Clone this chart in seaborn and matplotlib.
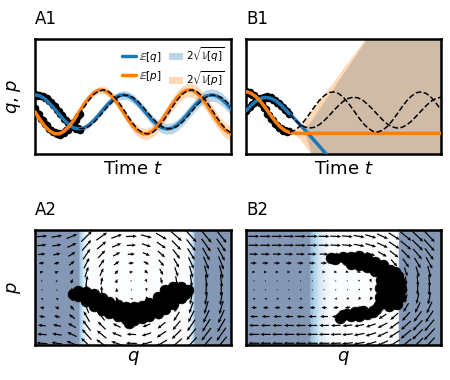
import numpy as np
import matplotlib
matplotlib.use('Agg')
import matplotlib.pyplot as plt
from matplotlib.lines import Line2D
from matplotlib.patches import Patch
from matplotlib.colors import ListedColormap
import seaborn as sns

sns.set_style('white')
plt.rcParams['font.family'] = ['DejaVu Sans']
plt.rcParams['text.color'] = 'black'
plt.rcParams['axes.labelcolor'] = 'black'

BLUE = '#1f77b4'
ORANGE = '#ff7f0e'

# ---- time series data ----
t = np.linspace(0, 10, 41)
t_true = t[9:]

# A1: model fits well
mean_q_a = [0.07, 0.03, -0.10, -0.30, -0.54, -0.80, -1.04, -1.24, -1.37, -1.41,
            -1.37, -1.24, -1.04, -0.80, -0.54, -0.30, -0.10, 0.03, 0.07, 0.03,
            -0.10, -0.30, -0.54, -0.80, -1.04, -1.24, -1.37, -1.41, -1.37, -1.24,
            -1.04, -0.80, -0.54, -0.30, -0.10, 0.03, 0.07, 0.03, -0.10, -0.30,
            -0.54]
mean_p_a = [-0.67, -1.00, -1.29, -1.50, -1.62, -1.62, -1.50, -1.29, -1.00, -0.67,
            -0.34, -0.05, 0.16, 0.28, 0.28, 0.16, -0.05, -0.34, -0.67, -1.00,
            -1.29, -1.50, -1.62, -1.62, -1.50, -1.29, -1.00, -0.67, -0.34, -0.05,
            0.16, 0.28, 0.28, 0.16, -0.05, -0.34, -0.67, -1.00, -1.29, -1.50,
            -1.62]
two_sd_q_a = [0.03, 0.04, 0.04, 0.05, 0.06, 0.07, 0.08, 0.09, 0.10, 0.11,
              0.12, 0.13, 0.14, 0.15, 0.16, 0.17, 0.18, 0.18, 0.19, 0.19,
              0.20, 0.20, 0.21, 0.21, 0.22, 0.22, 0.23, 0.23, 0.24, 0.24,
              0.25, 0.25, 0.26, 0.26, 0.26, 0.27, 0.27, 0.27, 0.28, 0.28,
              0.28]
two_sd_p_a = [0.03, 0.04, 0.05, 0.06, 0.07, 0.08, 0.09, 0.10, 0.11, 0.12,
              0.13, 0.14, 0.15, 0.16, 0.17, 0.18, 0.19, 0.20, 0.21, 0.22,
              0.23, 0.23, 0.24, 0.25, 0.25, 0.26, 0.27, 0.27, 0.28, 0.28,
              0.29, 0.29, 0.30, 0.30, 0.31, 0.31, 0.31, 0.32, 0.32, 0.32,
              0.32]
true_q_a = [-1.40, -1.39, -1.30, -1.13, -0.90, -0.64, -0.39, -0.18, -0.02,
            0.06, 0.05, -0.04, -0.21, -0.44, -0.70, -0.95, -1.17, -1.32,
            -1.40, -1.39, -1.30, -1.13, -0.90, -0.64, -0.39, -0.18, -0.02,
            0.06, 0.05, -0.04, -0.21, -0.44]
true_p_a = [-0.80, -0.47, -0.16, 0.09, 0.24, 0.29, 0.22, 0.04, -0.22,
            -0.54, -0.87, -1.18, -1.43, -1.58, -1.63, -1.56, -1.38, -1.12,
            -0.80, -0.47, -0.16, 0.09, 0.24, 0.29, 0.22, 0.04, -0.22,
            -0.54, -0.87, -1.18, -1.43, -1.58]
obs_t_a = np.linspace(0, 2.3, 24)
obs_q_a = [0.09, 0.04, 0.08, 0.01, 0.04, -0.07, -0.08, -0.21, -0.23, -0.38, -0.41, -0.57,
           -0.61, -0.78, -0.82, -0.98, -1.01, -1.16, -1.17, -1.30, -1.29, -1.40, -1.36, -1.44]
obs_p_a = [-0.50, -0.70, -0.77, -0.97, -1.03, -1.21, -1.26, -1.41, -1.44, -1.56, -1.55, -1.65,
           -1.60, -1.66, -1.57, -1.59, -1.47, -1.46, -1.31, -1.26, -1.09, -1.03, -0.84, -0.77]

# B1: model diverges after the observations
mean_q_b = [-0.62, -0.40, -0.21, -0.08, -0.04, -0.07, -0.17, -0.34, -0.55, -0.77,
            -0.98, -1.21, -1.44, -1.67, -1.91, -2.15, -2.39, -2.63, -2.87, -3.11,
            -3.35, -3.59, -3.83, -4.07, -4.31, -4.55, -4.79, -5.03, -5.27, -5.51,
            -5.75, -5.99, -6.23, -6.47, -6.71, -6.95, -7.19, -7.43, -7.67, -7.91,
            -8.15]
mean_p_b = [0.22, 0.14, 0.00, -0.22, -0.50, -0.80, -1.08, -1.32, -1.48, -1.57,
            -1.59, -1.60, -1.60, -1.60, -1.60, -1.60, -1.60, -1.60, -1.60, -1.60,
            -1.60, -1.60, -1.60, -1.60, -1.60, -1.60, -1.60, -1.60, -1.60, -1.60,
            -1.60, -1.60, -1.60, -1.60, -1.60, -1.60, -1.60, -1.60, -1.60, -1.60,
            -1.60]
two_sd_q_b = [0.03, 0.03, 0.04, 0.04, 0.05, 0.05, 0.06, 0.06, 0.07, 0.07,
              0.08, 0.08, 0.08, 0.46, 1.01, 1.57, 2.12, 2.67, 3.22, 3.77,
              4.33, 4.88, 5.43, 5.98, 6.53, 7.08, 7.63, 8.18, 8.73, 9.28,
              9.83, 10.38, 10.93, 11.48, 12.03, 12.58, 13.13, 13.68, 14.23, 14.78,
              15.33]
two_sd_p_b = [0.03, 0.03, 0.04, 0.04, 0.05, 0.05, 0.06, 0.06, 0.07, 0.07,
              0.08, 0.23, 0.51, 0.80, 1.08, 1.37, 1.65, 1.94, 2.22, 2.51,
              2.80, 3.08, 3.37, 3.65, 3.94, 4.22, 4.51, 4.79, 5.08, 5.36,
              5.65, 5.93, 6.22, 6.50, 6.79, 7.07, 7.36, 7.64, 7.93, 8.21,
              8.50]
true_q_b = [-0.79, -1.01, -1.20, -1.32, -1.37, -1.34, -1.23, -1.06, -0.84,
            -0.61, -0.39, -0.20, -0.08, -0.03, -0.06, -0.17, -0.35, -0.56,
            -0.79, -1.01, -1.20, -1.32, -1.37, -1.34, -1.23, -1.06, -0.84,
            -0.61, -0.39, -0.20, -0.08, -0.03]
true_p_b = [-1.54, -1.47, -1.30, -1.05, -0.76, -0.46, -0.18, 0.03, 0.17,
            0.20, 0.13, -0.04, -0.29, -0.58, -0.88, -1.16, -1.37, -1.51,
            -1.54, -1.47, -1.30, -1.05, -0.76, -0.46, -0.18, 0.03, 0.17,
            0.20, 0.13, -0.04, -0.29, -0.58]
obs_t_b = np.linspace(0, 2.2, 23)
obs_q_b = [-0.65, -0.49, -0.46, -0.31, -0.30, -0.16, -0.18, -0.06, -0.09, 0.00, -0.06, 0.01,
           -0.08, -0.04, -0.15, -0.14, -0.27, -0.28, -0.43, -0.44, -0.60, -0.62, -0.78]
obs_p_b = [0.24, 0.15, 0.19, 0.06, 0.07, -0.08, -0.10, -0.28, -0.31, -0.50, -0.55, -0.74,
           -0.79, -0.97, -1.02, -1.19, -1.22, -1.37, -1.38, -1.50, -1.47, -1.56, -1.51]

# ---- phase space data ----
q_grid_a = [-2.79, -2.33, -1.87, -1.42, -0.96, -0.50, -0.05, 0.41, 0.87, 1.33, 1.78, 2.24, 2.70]
q_grid_b = [-2.76, -2.40, -2.04, -1.68, -1.32, -0.96, -0.60, -0.24,
            0.12, 0.48, 0.84, 1.20, 1.56, 1.92, 2.28, 2.64]
p_grid = [1.78, 1.47, 1.16, 0.85, 0.54, 0.23, -0.08, -0.39, -0.70, -1.01, -1.32, -1.63, -1.94]

# learned vector field: dq/dt per row (p), dp/dt per column (q)
dq_rows_a = [1.7, 1.45, 1.15, 0.85, 0.55, 0.25, -0.05, -0.35, -0.65, -0.95, -1.25, -1.5, -1.75]
dp_cols_a = [0.15, 0.3, 0.8, 1.9, 1.4, 0.7, 0.07, -0.55, -1.15, -1.7, -2.1, -2.3, -2.4]
dq_rows_b = [1.75, 1.7, 1.4, 1.0, 0.5, 0.15, -0.05, -0.4, -0.85, -1.25, -1.55, -1.7, -1.75]
dp_cols_b = [0, 0, 0, 0, 0, 0, -0.02, -0.08, -0.18, -0.35, -0.6, -0.9, -1.25, -1.6, -1.9, -2.1]

# uncertainty background along q
bg_q_a = [-3.0, -1.64, -1.62, -1.52, -1.40, 1.70, 1.80, 1.88, 1.90, 3.0]
bg_v_a = [1, 1, 0.62, 0.35, 0.0, 0.0, 0.3, 0.6, 1, 1]
bg_q_b = [-3.0, -1.04, -1.00, -0.90, -0.75, -0.55, -0.40, 1.70, 1.72, 3.0]
bg_v_b = [1, 1, 0.7, 0.55, 0.35, 0.15, 0.0, 0.0, 1, 1]

# sampled trajectories in phase space
blob_q_a = [-1.84, -1.69, -1.69, -1.45, -1.45, -1.20, -1.20, -1.20, -0.96, -0.96, -0.96,
            -0.72, -0.72, -0.72, -0.47, -0.47, -0.47, -0.23, -0.23, -0.23, 0.02, 0.02, 0.02,
            0.26, 0.26, 0.26, 0.50, 0.50, 0.50, 0.75, 0.75, 0.75, 0.99, 0.99, 0.99,
            1.23, 1.23, 1.23, 1.48, 1.48, 1.48, 1.69, -0.11,
            -1.57, -1.33, -1.08, -0.84, -0.60, -0.35, -0.11, 0.14, 0.38, 0.62, 0.87, 1.11, 1.36, 1.60]
blob_p_a = [-0.23, -0.12, -0.30, -0.16, -0.47, -0.23, -0.43, -0.64, -0.37, -0.57, -0.78,
            -0.50, -0.70, -0.89, -0.61, -0.80, -0.99, -0.68, -0.89, -1.10, -0.68, -0.90, -1.13,
            -0.64, -0.85, -1.06, -0.54, -0.77, -0.99, -0.33, -0.61, -0.89, -0.09, -0.42, -0.75,
            0.02, -0.28, -0.57, 0.02, -0.17, -0.37, -0.10, -1.22,
            -0.28, -0.45, -0.58, -0.72, -0.85, -0.93, -1.01, -0.98, -0.88, -0.70, -0.45, -0.15, -0.08, -0.22]
blob_q_b = [-0.38, -0.26, -0.02, 0.23, 0.48, 0.72, 0.97, 1.22, 0.23, 0.48, 0.72, 0.97,
            1.15, 1.43, 1.68, 1.15, 1.43, 1.74, 1.12, 1.43, 1.77, 1.12, 1.43, 1.74, 1.09, 1.40, 1.65,
            -0.11, -0.02, 0.23, 0.48, 0.72, 0.91, 0.35, 0.60,
            0.10, 0.35, 0.60, 0.85, 1.30, 1.58, 1.28, 1.58, 1.28, 1.55, 1.25, 1.52, 1.00, 0.10]
blob_p_b = [1.03, 0.99, 1.06, 1.06, 1.10, 1.03, 0.89, 0.78, 0.82, 0.78, 0.71, 0.57,
            0.54, 0.61, 0.40, 0.26, 0.26, 0.19, -0.02, -0.02, -0.05, -0.33, -0.33, -0.33, -0.61, -0.64, -0.57,
            -1.06, -0.96, -0.99, -0.99, -0.92, -0.85, -0.85, -0.82,
            0.95, 0.93, 0.90, 0.82, 0.50, 0.55, 0.12, 0.10, -0.18, -0.18, -0.48, -0.47, -0.75, -0.92]

# Blues at half opacity over white, done in the colormap to avoid mesh seams
_blues = plt.get_cmap('Blues')(np.linspace(0, 1, 256))[:, :3]
BG_CMAP = ListedColormap(0.5 * _blues + 0.5)


def style_box(ax):
    ax.set_xticks([])
    ax.set_yticks([])
    for s in ax.spines.values():
        s.set_linewidth(1.8)
        s.set_color('black')


def time_panel(ax, mq, mp, sq, sp, tq, tp, ot, oq, op, label, ylabel=True):
    mq, mp, sq, sp = map(np.asarray, (mq, mp, sq, sp))
    ax.fill_between(t, mq - sq, mq + sq, color=BLUE, alpha=0.3, linewidth=0, zorder=1)
    ax.fill_between(t, mp - sp, mp + sp, color=ORANGE, alpha=0.3, linewidth=0, zorder=1)
    sns.scatterplot(x=ot, y=oq, color='black', s=30, linewidth=0, ax=ax, zorder=2)
    sns.scatterplot(x=ot, y=op, color='black', s=30, linewidth=0, ax=ax, zorder=2)
    sns.lineplot(x=t, y=mq, color=BLUE, linewidth=2.5, ax=ax, zorder=3)
    sns.lineplot(x=t, y=mp, color=ORANGE, linewidth=2.5, ax=ax, zorder=3)
    sns.lineplot(x=t_true, y=tq, color='black', linewidth=1.1, linestyle='--', ax=ax, zorder=4)
    sns.lineplot(x=t_true, y=tp, color='black', linewidth=1.1, linestyle='--', ax=ax, zorder=4)
    ax.set_xlim(0, 10)
    ax.set_ylim(-2.5, 2.5)
    style_box(ax)
    ax.set_xlabel('Time $t$', fontsize=13, labelpad=4)
    ax.set_ylabel('$q$, $p$' if ylabel else '', fontsize=13, labelpad=9)
    ax.set_title(label, loc='left', fontsize=12, pad=11)


def phase_panel(ax, bq, bv, qg, dq_rows, dp_cols, bx, by, label, ylabel=True):
    n = len(bq)
    X = np.vstack([bq, bq])
    Y = np.vstack([np.full(n, -2.0), np.full(n, 2.0)])
    C = np.vstack([bv, bv])
    ax.pcolormesh(X, Y, C, shading='gouraud', cmap=BG_CMAP, vmin=0, vmax=1,
                  antialiased=False, zorder=0)
    Q, P = np.meshgrid(qg, p_grid)
    U = np.outer(dq_rows, np.ones(len(qg)))
    V = np.outer(np.ones(len(p_grid)), dp_cols)
    ax.quiver(Q, P, U, V, angles='xy', scale_units='xy', scale=5.2, pivot='mid',
              width=0.0062, headwidth=2.8, headlength=3.2, headaxislength=2.9,
              color='black', zorder=2)
    sns.scatterplot(x=bx, y=by, color='black', s=60, linewidth=0.5, edgecolor='black',
                    ax=ax, zorder=4)
    ax.set_xlim(-3, 3)
    ax.set_ylim(-2, 2)
    style_box(ax)
    ax.set_xlabel('$q$', fontsize=13, labelpad=3)
    ax.set_ylabel('$p$' if ylabel else '', fontsize=13, labelpad=9)
    ax.set_title(label, loc='left', fontsize=12, pad=11)


fig = plt.figure(figsize=(4.5, 3.8), dpi=100)
ax_a1 = fig.add_axes([0.0778, 0.5947, 0.4356, 0.3026])
ax_b1 = fig.add_axes([0.5467, 0.5947, 0.4333, 0.3026])
ax_a2 = fig.add_axes([0.0778, 0.0921, 0.4356, 0.3026])
ax_b2 = fig.add_axes([0.5467, 0.0921, 0.4333, 0.3026])

time_panel(ax_a1, mean_q_a, mean_p_a, two_sd_q_a, two_sd_p_a, true_q_a, true_p_a,
           obs_t_a, obs_q_a, obs_p_a, 'A1')
time_panel(ax_b1, mean_q_b, mean_p_b, two_sd_q_b, two_sd_p_b, true_q_b, true_p_b,
           obs_t_b, obs_q_b, obs_p_b, 'B1', ylabel=False)
phase_panel(ax_a2, bg_q_a, bg_v_a, q_grid_a, dq_rows_a, dp_cols_a, blob_q_a, blob_p_a, 'A2')
phase_panel(ax_b2, bg_q_b, bg_v_b, q_grid_b, dq_rows_b, dp_cols_b, blob_q_b, blob_p_b, 'B2',
            ylabel=False)

handles = [Line2D([0], [0], color=BLUE, linewidth=2.5),
           Line2D([0], [0], color=ORANGE, linewidth=2.5),
           Patch(facecolor=BLUE, alpha=0.3, linewidth=0),
           Patch(facecolor=ORANGE, alpha=0.3, linewidth=0)]
labels = [r'$\mathbb{E}[q]$', r'$\mathbb{E}[p]$',
          r'$2\sqrt{\mathbb{V}[q]}$', r'$2\sqrt{\mathbb{V}[p]}$']
ax_a1.legend(handles, labels, loc='upper right', ncol=2, fontsize=7.5, frameon=False,
             handlelength=1.3, handletextpad=0.3, columnspacing=0.8, labelspacing=0.5,
             borderaxespad=0.2)

fig.savefig('out.png', dpi=100)
